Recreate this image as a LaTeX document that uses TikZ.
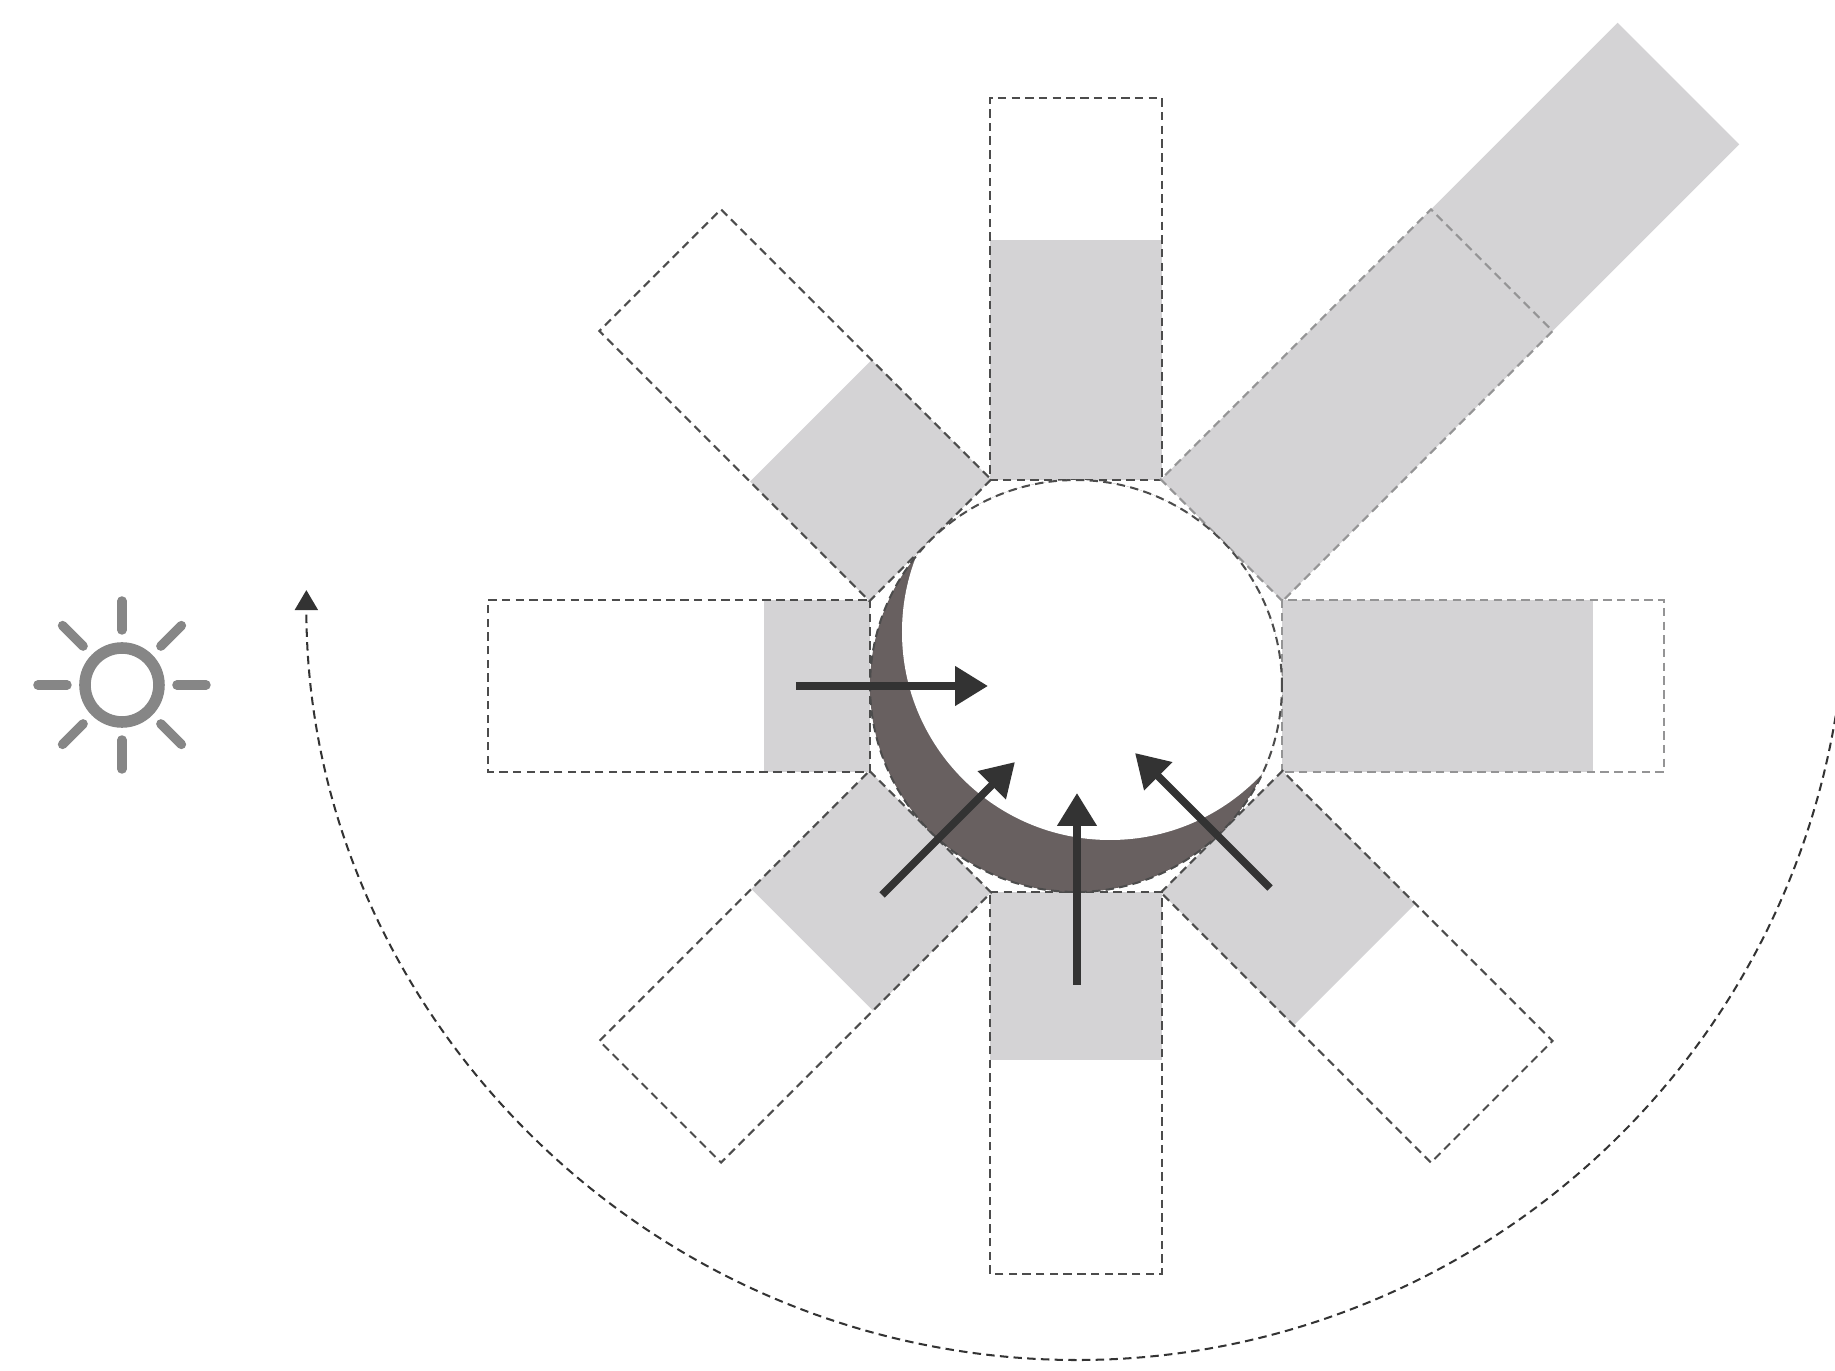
\documentclass[tikz,border=0pt]{standalone}
\usepackage{xcolor}
\usetikzlibrary{arrows.meta,calc}
\definecolor{bargray}{HTML}{D4D3D5}
\definecolor{crescent}{HTML}{686060}
\definecolor{sungray}{HTML}{868686}
\definecolor{arrowdark}{HTML}{333333}
\tikzset{
  barfill/.style={fill=bargray, draw=none},
  bardash/.style={draw=#1, line width=1.15pt, dash pattern=on 4.8pt off 3pt},
  hubcirc/.style={circle, draw=black!70, line width=1.15pt, dash pattern=on 4.8pt off 3pt,
                  minimum size=8.24cm, inner sep=0pt},
  forcearrow/.style={draw=arrowdark, line width=4.4pt, -{Triangle[length=0.66cm,width=0.76cm]}},
  patharrow/.style={draw=black!80, line width=1.15pt, dash pattern=on 4.8pt off 3pt,
                    -{Triangle[length=0.4cm,width=0.46cm]}},
  sunring/.style={circle, draw=sungray, line width=6.6pt, minimum size=1.48cm, inner sep=0pt},
  sunray/.style={draw=sungray, line width=5.4pt, line cap=round},
}
\begin{document}
\begin{tikzpicture}[x=0.02cm, y=0.02cm]
    \useasboundingbox (-1076,-685) rectangle (759,686);
    % light bars, longest one points at the upper right
    \foreach \ang/\len/\col in {90/446/black!70, 45/852/bargray!70!black, 0/517/bargray!70!black,
                                -45/394/black!70, -90/374/black!70, -135/373/black!70,
                                180/312/black!70, 135/375/black!70}{
      \begin{scope}[rotate=\ang]
        \fill[barfill] (206,-86) rectangle (\len,86);
        \draw[bardash=\col] (206,-86) rectangle (588,86);
      \end{scope}
    }
    % crescent
    \begin{scope}
      \clip (0,0) circle (206);
      \fill[crescent] (0,0) circle (206);
      \fill[white] (34,54) circle (208);
    \end{scope}
    \node[hubcirc] (hub) at (0,0) {};
    % sun
    \node[sunring] (sun) at (-954,1) {};
    \foreach \ang in {0,45,...,315}{
      \draw[sunray] ($(sun.center)+(\ang:55)$) -- ($(sun.center)+(\ang:84)$);
    }
    % arrows
    \coordinate (leftfrom) at (-280,0);
    \coordinate (leftto) at (-88,0);
    \coordinate (diagfrom) at (-194,-209);
    \coordinate (diagto) at (-61,-76);
    \coordinate (downfrom) at (1,-299);
    \coordinate (downto) at (1,-107);
    \coordinate (rightfrom) at (194,-202);
    \coordinate (rightto) at (59,-67);
    \draw[forcearrow] (leftfrom) -- (leftto);
    \draw[forcearrow] (diagfrom) -- (diagto);
    \draw[forcearrow] (downfrom) -- (downto);
    \draw[forcearrow] (rightfrom) -- (rightto);
    % path of the sun
    \coordinate (arcstart) at (759.7,-29.8);
    \draw[patharrow] (arcstart) arc[start angle=-9.4, end angle=-180, radius=15.4cm];
\end{tikzpicture}
\end{document}
